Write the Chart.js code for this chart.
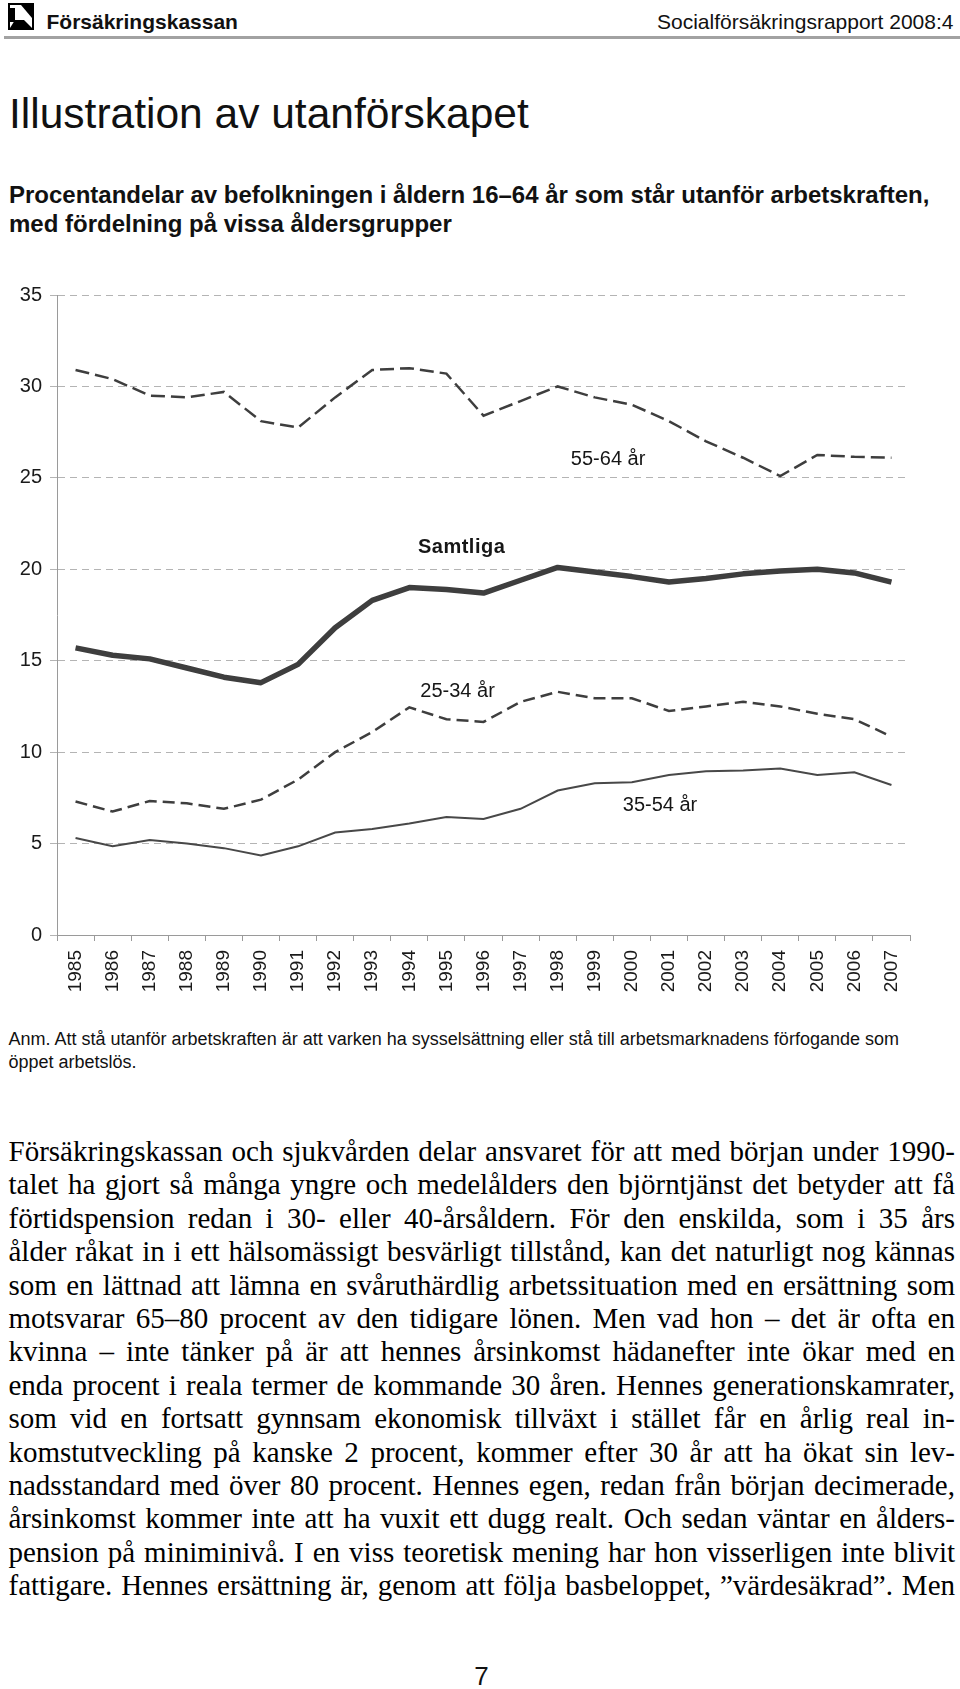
<!DOCTYPE html>
<html lang="sv">
<head>
<meta charset="utf-8">
<script src="https://cdn.jsdelivr.net/npm/chart.js@4.4.0/dist/chart.umd.min.js"></script>
<style>
  html, body { margin: 0; padding: 0; background: #fff; }
  body { width: 960px; height: 1689px; position: relative; overflow: hidden; font-family: "Liberation Sans", Arial, sans-serif; color: #111; }
  .abs { position: absolute; white-space: nowrap; }
  #logo { position: absolute; left: 8px; top: 3px; }
  #brand { left: 46.5px; top: 10.5px; font-size: 21px; line-height: 1; font-weight: bold; }
  #report { right: 6.5px; top: 10.5px; font-size: 21px; line-height: 1; }
  #rule { position: absolute; left: 4px; right: 0; top: 36px; height: 3px; background: #a2a2a2; }
  #title { left: 9px; top: 93px; font-size: 42.5px; line-height: 1; }
  #subtitle { left: 9px; top: 179.7px; font-size: 24px; line-height: 29px; font-weight: bold; }
  #chartbox { position: absolute; left: 0; top: 260px; width: 960px; height: 760px; }
  #note { left: 8.5px; top: 1028px; font-size: 18px; line-height: 23.3px; }
  #bodytext { position: absolute; left: 8.5px; top: 1135px; width: 946.5px; font-family: "Liberation Serif", "Times New Roman", serif; font-size: 29px; line-height: 33.4px; color: #000; }
  #bodytext div { text-align: justify; text-align-last: justify; white-space: nowrap; }
  #pagenr { left: 469px; width: 25px; text-align: center; top: 1663px; font-size: 26px; line-height: 1; }
</style>
</head>
<body>
<svg id="logo" width="26" height="27" viewBox="0 0 26 27">
  <rect x="1" y="1" width="24" height="25" fill="none" stroke="#000" stroke-width="2"/>
  <rect x="2" y="5" width="5" height="14" fill="#000"/>
  <polygon points="13,2 24,2 24,15" fill="#000"/>
  <polygon points="2,25 7,17 16,17 24,25" fill="#000"/>
</svg>
<div id="brand" class="abs">Försäkringskassan</div>
<div id="report" class="abs">Socialförsäkringsrapport 2008:4</div>
<div id="rule"></div>
<div id="title" class="abs">Illustration av utanförskapet</div>
<div id="subtitle" class="abs">Procentandelar av befolkningen i åldern 16–64 år som står utanför arbetskraften,<br>med fördelning på vissa åldersgrupper</div>
<div id="chartbox"><canvas id="chart" width="960" height="760"></canvas></div>
<div id="note" class="abs">Anm. Att stå utanför arbetskraften är att varken ha sysselsättning eller stå till arbetsmarknadens förfogande som<br>öppet arbetslös.</div>
<div id="bodytext">
<div>Försäkringskassan och sjukvården delar ansvaret för att med början under 1990-</div>
<div>talet ha gjort så många yngre och medelålders den björntjänst det betyder att få</div>
<div>förtidspension redan i 30- eller 40-årsåldern. För den enskilda, som i 35 års</div>
<div>ålder råkat in i ett hälsomässigt besvärligt tillstånd, kan det naturligt nog kännas</div>
<div>som en lättnad att lämna en svåruthärdlig arbetssituation med en ersättning som</div>
<div>motsvarar 65–80 procent av den tidigare lönen. Men vad hon – det är ofta en</div>
<div>kvinna – inte tänker på är att hennes årsinkomst hädanefter inte ökar med en</div>
<div>enda procent i reala termer de kommande 30 åren. Hennes generationskamrater,</div>
<div>som vid en fortsatt gynnsam ekonomisk tillväxt i stället får en årlig real in-</div>
<div>komstutveckling på kanske 2 procent, kommer efter 30 år att ha ökat sin lev-</div>
<div>nadsstandard med över 80 procent. Hennes egen, redan från början decimerade,</div>
<div>årsinkomst kommer inte att ha vuxit ett dugg realt. Och sedan väntar en ålders-</div>
<div>pension på miniminivå. I en viss teoretisk mening har hon visserligen inte blivit</div>
<div>fattigare. Hennes ersättning är, genom att följa basbeloppet, ”värdesäkrad”. Men</div>
</div>
<div id="pagenr" class="abs">7</div>

<script>
// ---- Data ----
const years = ['1985','1986','1987','1988','1989','1990','1991','1992','1993','1994','1995','1996',
               '1997','1998','1999','2000','2001','2002','2003','2004','2005','2006','2007'];
const samtliga = [15.7, 15.3, 15.1, 14.6, 14.1, 13.8, 14.8, 16.8, 18.3, 19.0, 18.9, 18.7,
                  19.4, 20.1, 19.85, 19.6, 19.3, 19.5, 19.75, 19.9, 20.0, 19.8, 19.3];
const age5564 = [30.9, 30.4, 29.5, 29.4, 29.7, 28.1, 27.75, 29.4, 30.9, 31.0, 30.7, 28.4,
                 29.2, 30.0, 29.4, 29.0, 28.1, 27.0, 26.1, 25.1, 26.25, 26.15, 26.1];
const age2534 = [7.3, 6.75, 7.33, 7.2, 6.9, 7.4, 8.5, 10.0, 11.1, 12.45, 11.8, 11.65,
                 12.75, 13.3, 12.95, 12.95, 12.25, 12.5, 12.75, 12.5, 12.1, 11.8, 10.85];
const age3554 = [5.3, 4.85, 5.2, 5.0, 4.75, 4.35, 4.85, 5.6, 5.8, 6.1, 6.45, 6.35,
                 6.9, 7.9, 8.3, 8.35, 8.75, 8.95, 9.0, 9.1, 8.75, 8.9, 8.2];
const yTickValues = [0, 5, 10, 15, 20, 25, 30, 35];
const seriesNames = ['Samtliga', '55-64 år', '25-34 år', '35-54 år'];

// ---- In-chart series labels (anchored in data coordinates: category index, value) ----
const labelAnchors = [
  { text: seriesNames[1], xIndex: 14.36, yValue: 25.69, bold: false },
  { text: seriesNames[0], xIndex: 10.41, yValue: 20.87, bold: true },
  { text: seriesNames[2], xIndex: 10.30, yValue: 13.0,  bold: false },
  { text: seriesNames[3], xIndex: 15.76, yValue: 6.80,  bold: false }
];

const FONT = '"Liberation Sans", Arial, sans-serif';
Chart.defaults.font.family = FONT;
Chart.defaults.color = '#222';

const seriesLabelPlugin = {
  id: 'seriesLabels',
  afterDatasetsDraw(chart) {
    const ctx = chart.ctx, xs = chart.scales.x, ys = chart.scales.y;
    ctx.save();
    ctx.fillStyle = '#161616';
    ctx.textAlign = 'center';
    ctx.textBaseline = 'alphabetic';
    labelAnchors.forEach(l => {
      ctx.font = (l.bold ? 'bold ' : '') + '20px ' + FONT;
      if ('letterSpacing' in ctx) ctx.letterSpacing = l.bold ? '0.5px' : '0px';
      ctx.fillText(l.text, xs.getPixelForValue(l.xIndex), ys.getPixelForValue(l.yValue));
    });
    ctx.restore();
  }
};

const lineColor = '#3e3e3e';
new Chart(document.getElementById('chart'), {
  type: 'line',
  data: {
    labels: years,
    datasets: [
      { label: seriesNames[1], data: age5564, borderColor: lineColor, borderWidth: 2.5, borderDash: [14, 6], pointRadius: 0, tension: 0, fill: false },
      { label: seriesNames[2], data: age2534, borderColor: lineColor, borderWidth: 2.5, borderDash: [12, 6], pointRadius: 0, tension: 0, fill: false },
      { label: seriesNames[3], data: age3554, borderColor: '#484848', borderWidth: 2, pointRadius: 0, tension: 0, fill: false },
      { label: seriesNames[0], data: samtliga, borderColor: lineColor, borderWidth: 5.5, borderJoinStyle: 'round', pointRadius: 0, tension: 0, fill: false }
    ]
  },
  options: {
    responsive: false,
    devicePixelRatio: 1,
    animation: false,
    layout: { padding: { top: 35, right: 50, left: 0, bottom: 0 } },
    plugins: { legend: { display: false }, tooltip: { enabled: false } },
    scales: {
      x: {
        type: 'category',
        offset: true,
        afterFit(scale) { scale.height = 85; },
        grid: { display: true, drawOnChartArea: false, drawTicks: true, tickLength: 6, offset: true, color: '#9a9a9a', tickColor: '#9a9a9a' },
        border: { display: true, color: '#9a9a9a', width: 1 },
        ticks: { autoSkip: false, minRotation: 90, maxRotation: 90, padding: 9, color: '#1a1a1a', font: { size: 19 } }
      },
      y: {
        min: 0, max: 35,
        afterFit(scale) { scale.width = 57; },
        afterBuildTicks(scale) { scale.ticks = yTickValues.map(v => ({ value: v })); },
        grid: { display: true, drawOnChartArea: true, drawTicks: true, tickLength: 7, color: '#b4b4b4', tickColor: '#b4b4b4', lineWidth: 1 },
        border: { display: true, color: '#9a9a9a', width: 1, dash: [7, 5] },
        ticks: { padding: 8, color: '#1a1a1a', font: { size: 20 } }
      }
    }
  },
  plugins: [seriesLabelPlugin]
});
</script>
</body>
</html>
